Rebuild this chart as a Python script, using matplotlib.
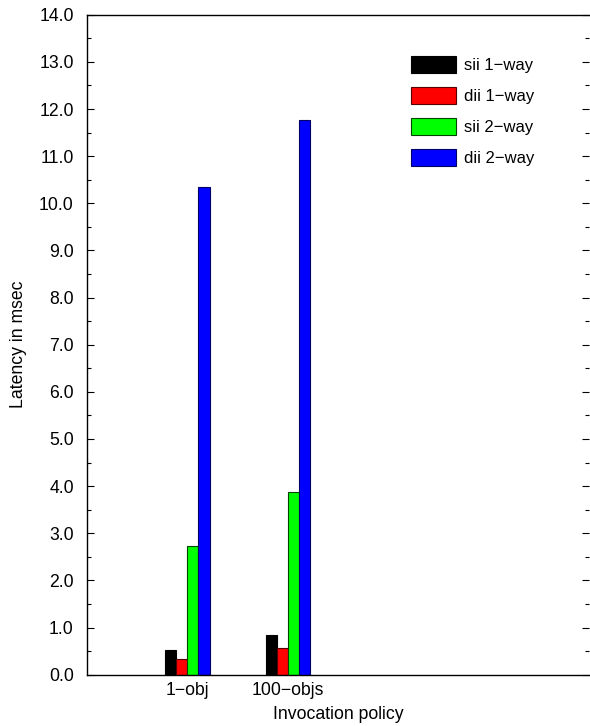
import matplotlib.pyplot as plt
import numpy as np
from matplotlib.ticker import MultipleLocator, FormatStrFormatter

plt.rcParams["font.family"] = ["Liberation Sans", "DejaVu Sans"]

policies = ["1\u2212obj", "100\u2212objs"]
series = ["sii 1\u2212way", "dii 1\u2212way", "sii 2\u2212way", "dii 2\u2212way"]
colors = ["#000000", "#ff0000", "#00ff00", "#0000ff"]
edges = ["#000000", "#550000", "#004400", "#000066"]

sii_1way = [0.52, 0.84]
dii_1way = [0.34, 0.56]
sii_2way = [2.74, 3.87]
dii_2way = [10.35, 11.77]
values = [sii_1way, dii_1way, sii_2way, dii_2way]

fig = plt.figure(figsize=(5.9, 7.26), dpi=100)
ax = fig.add_axes([0.1475, 0.0707, 0.851, 0.909])

x = np.arange(1, len(policies) + 1)
width = 0.11
for i, (name, vals) in enumerate(zip(series, values)):
    ax.bar(x + (i - 1.5) * width, vals, width, color=colors[i],
           edgecolor=edges[i], linewidth=0.8, label=name)

ax.set_xlim(0, 5)
ax.set_ylim(0, 14)
ax.set_xticks(x)
ax.set_xticklabels(policies)
ax.yaxis.set_major_locator(MultipleLocator(1.0))
ax.yaxis.set_minor_locator(MultipleLocator(0.5))
ax.yaxis.set_major_formatter(FormatStrFormatter("%.1f"))

fs = 12.7
ax.tick_params(axis="x", length=0, pad=5, labelsize=fs)
ax.tick_params(axis="y", which="both", direction="in", left=True, right=True,
               labelsize=fs, pad=9.5, width=0.8)
ax.tick_params(axis="y", which="major", length=5)
ax.tick_params(axis="y", which="minor", length=3)
ax.spines["right"].set_visible(False)
for s in ["left", "top", "bottom"]:
    ax.spines[s].set_linewidth(1.0)

ax.set_ylabel("Latency in msec", fontsize=fs, labelpad=9)
ax.set_xlabel("Invocation policy", fontsize=fs, labelpad=5)

ax.legend(loc="upper left", bbox_to_anchor=(0.645, 0.938), frameon=False,
          fontsize=12, handlelength=2.7, handleheight=1.25, labelspacing=0.8,
          handletextpad=0.5, borderaxespad=0, borderpad=0)

fig.savefig("out.png", dpi=100)
